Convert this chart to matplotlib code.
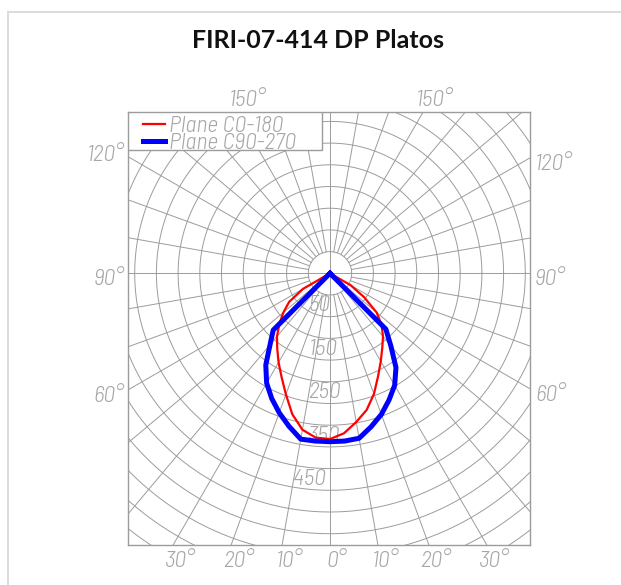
import numpy as np
import matplotlib
matplotlib.use("Agg")
import matplotlib.pyplot as plt
from matplotlib.patches import Rectangle

# luminous intensity (cd/klm) against gamma angle
gamma = np.arange(0, 70, 5)
c0 = [382, 370, 348, 326, 296, 262, 234, 210, 190, 168, 140, 96, 55, 0]
c180 = [382, 380, 366, 336, 297, 264, 237, 212, 190, 165, 140, 115, 72, 0]
c90 = [388, 388, 386, 366, 346, 322, 298, 265, 218, 182, 0, 0, 0, 0]
c270 = [388, 388, 388, 365, 342, 318, 292, 258, 215, 185, 0, 0, 0, 0]

ring_values = np.arange(50, 850, 50)
ring_labels = [50, 150, 250, 350, 450]
side_angles = [120, 90, 60]
top_angles = [150]
bottom_angles = [30, 20, 10, 0, 10, 20, 30]
series_names = ["Plane C0-180", "Plane C90-270"]

# pixel layout of the drawing (621x585 canvas)
W, H = 621, 585
K = 0.434            # px per cd
CX, CY = 330, 273.3  # pole of the diagram in pixels
BOX = (128, 111.5, 530, 545)

GRID = "#9c9c9c"
LABEL = "#a6a6a6"
font = dict(family="Barlow Semi Condensed", style="italic", weight=300,
            color=LABEL, fontsize=17)


def X(px):
    return (px - CX) / K


def Y(py):
    return -(py - CY) / K


def outline(left, right):
    g = np.radians(gamma)
    left = np.asarray(left, float)
    right = np.asarray(right, float)
    x = np.concatenate([-left[::-1] * np.sin(g[::-1]), right * np.sin(g)])
    y = np.concatenate([-left[::-1] * np.cos(g[::-1]), -right * np.cos(g)])
    return x, y


fig = plt.figure(figsize=(W / 100, H / 100), dpi=100)
fig.add_artist(Rectangle((8 / W, -0.1), 1.2, (H - 12) / H + 0.1,
                         transform=fig.transFigure, fill=False,
                         ec="#d9d9d9", lw=1.3))
fig.text(318 / W, 1 - 48.5 / H, "FIRI-07-414 DP Platos", ha="center",
         va="baseline", fontsize=18, weight="bold", family="Lato",
         color="#111111")

x0, y0, x1, y1 = BOX
ax = fig.add_axes([x0 / W, (H - y1) / H, (x1 - x0) / W, (y1 - y0) / H])
ax.set_xlim(X(x0), X(x1))
ax.set_ylim(Y(y1), Y(y0))
ax.set_xticks([])
ax.set_yticks([])
for s in ax.spines.values():
    s.set_color(GRID)
    s.set_linewidth(1.0)

# polar grid
t = np.linspace(0, 2 * np.pi, 721)
for r in ring_values:
    ax.plot(r * np.cos(t), r * np.sin(t), color=GRID, lw=0.7, zorder=1)
for a in range(0, 360, 10):
    r0 = 0 if a % 90 == 0 else 50
    ar = np.radians(a)
    ax.plot([r0 * np.sin(ar), 1200 * np.sin(ar)],
            [-r0 * np.cos(ar), -1200 * np.cos(ar)], color=GRID, lw=0.7, zorder=1)

# intensity curves
xr, yr = outline(c180, c0)
ax.plot(xr, yr, color="#ff0000", lw=1.6, zorder=3, solid_joinstyle="round")
xb, yb = outline(c270, c90)
ax.plot(xb, yb, color="#0000ff", lw=3.6, zorder=4, solid_joinstyle="round")

# intensity labels along the 0 deg axis
for v in ring_labels:
    dx = -85 if v >= 450 else -50
    ax.text(dx, -v - 38, str(v), ha="left", va="baseline", **font, zorder=2)

# angle labels round the box
ylo, yhi = Y(y1), Y(y0)
xlo, xhi = X(x0), X(x1)
for i, a in enumerate(bottom_angles):
    side = -1 if i < len(bottom_angles) // 2 else 1
    xl = side * abs(ylo) * np.tan(np.radians(a))
    ax.text(xl + 16, Y(566.7), f"{a}°", ha="center", va="baseline",
            clip_on=False, **font)
for a in top_angles:
    for side in (-1, 1):
        xl = side * yhi * np.tan(np.radians(180 - a))
        ax.text(xl - 17, Y(106), f"{a}°", ha="left", va="baseline",
                clip_on=False, **font)
for a in side_angles:
    cot = np.cos(np.radians(a)) / np.sin(np.radians(a))
    yl = -abs(xlo) * cot
    off = 4 if a > 90 else 12
    ax.text(X(124), yl - off / K, f"{a}°", ha="right", va="baseline",
            clip_on=False, **font)
    yr_ = -abs(xhi) * cot
    ax.text(X(535), yr_ - 12 / K, f"{a}°", ha="left", va="baseline",
            clip_on=False, **font)

# legend box in the top-left corner
ax.add_patch(Rectangle((X(128), Y(150)), X(322) - X(128), Y(112) - Y(150),
                       fc="white", ec=GRID, lw=1.0, zorder=5))
ax.plot([X(143), X(165)], [Y(124), Y(124)], color="#ff0000", lw=1.6, zorder=6)
ax.plot([X(143), X(165)], [Y(141), Y(141)], color="#0000ff", lw=3.6, zorder=6)
ax.text(X(169), Y(131.5), series_names[0], ha="left", va="baseline", zorder=6, **font)
ax.text(X(169), Y(149), series_names[1], ha="left", va="baseline", zorder=6, **font)

fig.savefig("out.png", dpi=100, facecolor="white")
